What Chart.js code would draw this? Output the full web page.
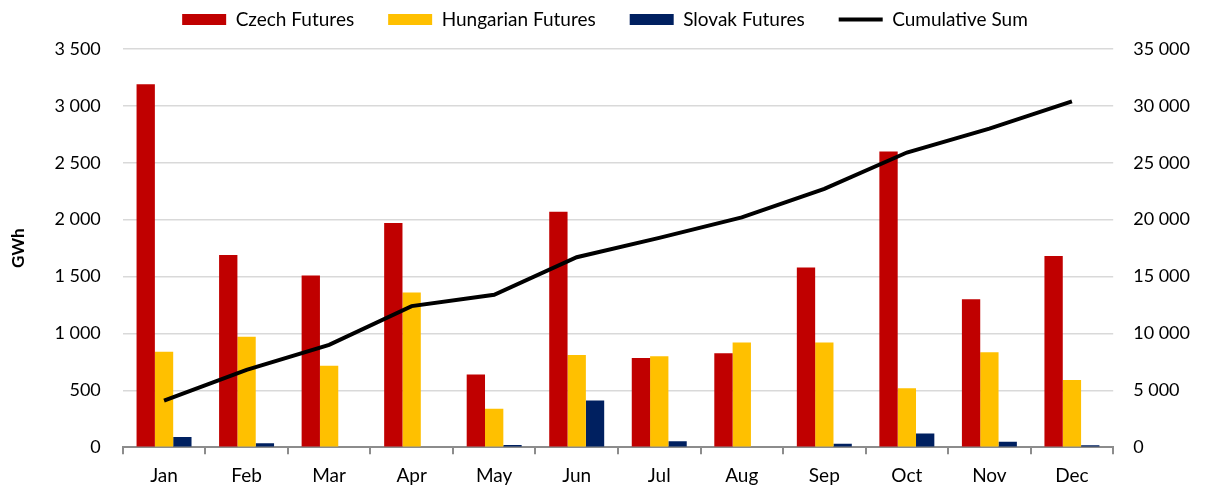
<!DOCTYPE html>
<html>
<head>
<meta charset="utf-8">
<script src="https://cdn.jsdelivr.net/npm/chart.js@4/dist/chart.umd.min.js"></script>
<style>
  html, body { margin: 0; padding: 0; background: #fff; }
  #wrap { width: 1208px; height: 488px; }
</style>
</head>
<body>
<div id="wrap"><canvas id="futures_chart"></canvas></div>
<script>
const months = ['Jan', 'Feb', 'Mar', 'Apr', 'May', 'Jun', 'Jul', 'Aug', 'Sep', 'Oct', 'Nov', 'Dec'];
const czech = [3190, 1690, 1510, 1970, 640, 2070, 785, 825, 1580, 2600, 1300, 1680];
const hungarian = [840, 970, 715, 1360, 337, 810, 800, 920, 920, 518, 835, 590];
const slovak = [90, 35, 0, 0, 20, 410, 53, 0, 30, 120, 47, 18];
const cumulative = [4100, 6800, 9000, 12400, 13400, 16700, 18400, 20200, 22700, 25900, 28000, 30400];

const fmt = v => String(v).replace(/\B(?=(\d{3})+(?!\d))/g, ' ');
const tickFont = { family: 'Lato', size: 18 };

// shrink the legend box so the wide item spacing doesn't push the plot down
const legendHeight = {
  id: 'legendHeight',
  afterInit(chart) {
    const fit = chart.legend.fit;
    chart.legend.fit = function () {
      fit.call(this);
      this.height = 73;
    };
  }
};

const ctx = document.getElementById('futures_chart').getContext('2d');

new Chart(ctx, {
  data: {
    labels: months,
    datasets: [
      {
        type: 'bar',
        label: 'Czech Futures',
        data: czech,
        yAxisID: 'y',
        backgroundColor: '#C00000',
        pointStyle: 'rect',
        order: 1
      },
      {
        type: 'bar',
        label: 'Hungarian Futures',
        data: hungarian,
        yAxisID: 'y',
        backgroundColor: '#FFC000',
        pointStyle: 'rect',
        order: 1
      },
      {
        type: 'bar',
        label: 'Slovak Futures',
        data: slovak,
        yAxisID: 'y',
        backgroundColor: '#002060',
        pointStyle: 'rect',
        order: 1
      },
      {
        type: 'line',
        label: 'Cumulative Sum',
        data: cumulative,
        yAxisID: 'y2',
        borderColor: '#000000',
        backgroundColor: '#000000',
        borderWidth: 4,
        pointRadius: 0,
        pointStyle: 'line',
        tension: 0,
        order: 0
      }
    ]
  },
  options: {
    responsive: true,
    maintainAspectRatio: false,
    animation: false,
    datasets: {
      bar: { barPercentage: 1, categoryPercentage: 0.666 }
    },
    layout: { padding: { left: 0, right: -2, top: -24, bottom: -9 } },
    plugins: {
      tooltip: { enabled: false },
      legend: {
        display: true,
        position: 'top',
        labels: {
          color: '#000000',
          font: { family: 'Lato', size: 19 },
          usePointStyle: true,
          pointStyleWidth: 44,
          boxHeight: 11,
          padding: 34,
          sort: (a, b) => a.datasetIndex - b.datasetIndex
        }
      }
    },
    scales: {
      x: {
        grid: {
          display: true,
          drawOnChartArea: false,
          drawTicks: true,
          tickLength: 7,
          offset: true,
          color: '#8c8c8c',
          lineWidth: 2
        },
        border: { color: '#8c8c8c', width: 2 },
        ticks: { color: '#000000', font: { family: 'Lato', size: 19 }, padding: 10 }
      },
      y: {
        position: 'left',
        min: 0,
        max: 3500,
        title: {
          display: true,
          text: 'GWh',
          color: '#000000',
          font: { family: 'Lato', size: 17, weight: 'bold' },
          padding: { top: 8, bottom: 4 }
        },
        grid: { color: '#d9d9d9', lineWidth: 1.5, drawTicks: false },
        border: { display: false },
        ticks: {
          stepSize: 500,
          color: '#000000',
          font: tickFont,
          padding: 22,
          callback: v => fmt(v)
        }
      },
      y2: {
        position: 'right',
        min: 0,
        max: 35000,
        grid: { drawOnChartArea: false, drawTicks: false },
        border: { display: false },
        ticks: {
          stepSize: 5000,
          color: '#000000',
          font: tickFont,
          padding: 20,
          callback: v => fmt(v)
        }
      }
    }
  },
  plugins: [legendHeight]
});
</script>
</body>
</html>
